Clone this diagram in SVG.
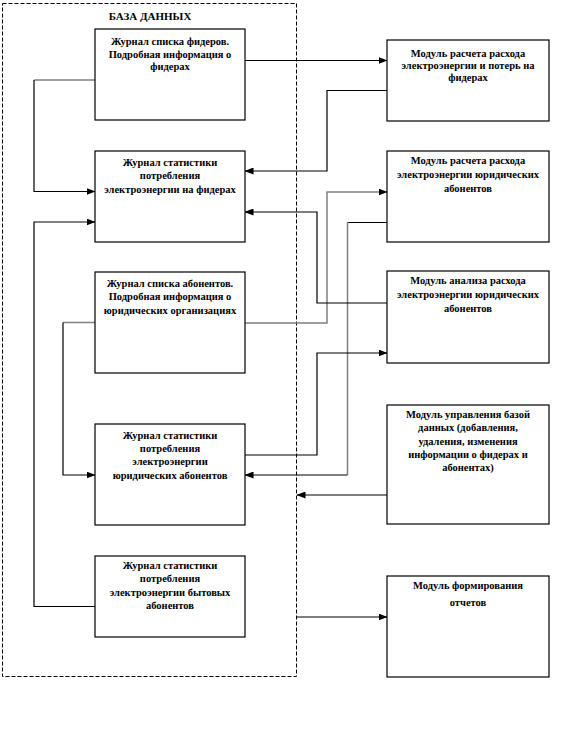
<svg xmlns="http://www.w3.org/2000/svg" width="570" height="738" viewBox="0 0 570 738">
<style>
.box{fill:#fff;stroke:#000;stroke-width:1.2}
.t{font-family:"Liberation Serif","Times New Roman",serif;font-size:10.5px;font-weight:bold;text-anchor:middle;fill:#000}
.c{fill:none;stroke:#000;stroke-width:1.2}
.g{fill:none;stroke:#808080;stroke-width:1.5}
</style>
<defs>
<marker id="ar" markerWidth="9" markerHeight="7" refX="8.5" refY="3.5" orient="auto" markerUnits="userSpaceOnUse">
<path d="M0,0 L9,3.5 L0,7 Z" fill="#000"/>
</marker>
</defs>
<rect x="0" y="0" width="570" height="738" fill="#fff"/>
<g id="db">
<rect x="2.5" y="3.5" width="294" height="673" fill="none" stroke="#000" stroke-width="1" stroke-dasharray="4,2"/>
<text class="t" x="150" y="20" style="font-size:11px">БАЗА ДАННЫХ</text>
</g>
<g id="connectors">
<path class="c" d="M245,60.5 H387" marker-end="url(#ar)"/>
<path class="c" d="M387,90.5 H327 V171 H245" marker-end="url(#ar)"/>
<path class="g" d="M245,323 H327 V192 H387" marker-end="url(#ar)"/>
<path class="c" d="M387,222.5 H347.5"/>
<path class="g" d="M347.5,222.5 V475"/>
<path class="c" d="M347.5,475 H245" marker-end="url(#ar)"/>
<path class="c" d="M387,303 H317 V212 H245" marker-end="url(#ar)"/>
<path class="c" d="M245,455 H317 V353 H387" marker-end="url(#ar)"/>
<path class="c" d="M387,495 H297" marker-end="url(#ar)"/>
<path class="c" d="M297,617 H387" marker-end="url(#ar)"/>
<path class="g" d="M95,80 H34"/>
<path class="c" d="M34,80 V191.5 H95" marker-end="url(#ar)"/>
<path class="c" d="M95,606.5 H34 V222 H95" marker-end="url(#ar)"/>
<path class="g" d="M95,322.5 H63"/>
<path class="c" d="M63,322.5 V475 H95" marker-end="url(#ar)"/>
</g>
<g id="n1">
<rect class="box" x="95" y="29" width="150" height="91"/>
<text class="t" x="170" y="45">Журнал списка фидеров.</text>
<text class="t" x="170" y="58">Подробная информация о</text>
<text class="t" x="170" y="70">фидерах</text>
</g>
<g id="n2">
<rect class="box" x="95" y="151" width="150" height="91"/>
<text class="t" x="170" y="166">Журнал статистики</text>
<text class="t" x="170" y="179">потребления</text>
<text class="t" x="170" y="193">электроэнергии на фидерах</text>
</g>
<g id="n3">
<rect class="box" x="95" y="272" width="150" height="101"/>
<text class="t" x="170" y="287">Журнал списка абонентов.</text>
<text class="t" x="170" y="300">Подробная информация о</text>
<text class="t" x="170" y="314">юридических организациях</text>
</g>
<g id="n4">
<rect class="box" x="95" y="424" width="150" height="101"/>
<text class="t" x="170" y="439">Журнал статистики</text>
<text class="t" x="170" y="452">потребления</text>
<text class="t" x="170" y="465">электроэнергии</text>
<text class="t" x="170" y="479">юридических абонентов</text>
</g>
<g id="n5">
<rect class="box" x="95" y="556" width="150" height="81"/>
<text class="t" x="170" y="569">Журнал статистики</text>
<text class="t" x="170" y="582">потребления</text>
<text class="t" x="170" y="596">электроэнергии бытовых</text>
<text class="t" x="170" y="609">абонентов</text>
</g>
<g id="m1">
<rect class="box" x="387" y="40" width="162" height="81"/>
<text class="t" x="468" y="57">Модуль расчета расхода</text>
<text class="t" x="468" y="69">электроэнергии и потерь на</text>
<text class="t" x="468" y="81">фидерах</text>
</g>
<g id="m2">
<rect class="box" x="387" y="151" width="162" height="91"/>
<text class="t" x="468" y="164">Модуль расчета расхода</text>
<text class="t" x="468" y="178">электроэнергии юридических</text>
<text class="t" x="468" y="192">абонентов</text>
</g>
<g id="m3">
<rect class="box" x="387" y="271" width="162" height="92"/>
<text class="t" x="468" y="284">Модуль анализа расхода</text>
<text class="t" x="468" y="298">электроэнергии юридических</text>
<text class="t" x="468" y="312">абонентов</text>
</g>
<g id="m4">
<rect class="box" x="387" y="405" width="162" height="119"/>
<text class="t" x="468" y="418">Модуль управления базой</text>
<text class="t" x="468" y="431">данных (добавления,</text>
<text class="t" x="468" y="445">удаления, изменения</text>
<text class="t" x="468" y="458">информации о фидерах и</text>
<text class="t" x="468" y="471">абонентах)</text>
</g>
<g id="m5">
<rect class="box" x="387" y="576" width="162" height="101"/>
<text class="t" x="468" y="589">Модуль формирования</text>
<text class="t" x="468" y="606">отчетов</text>
</g>
</svg>
